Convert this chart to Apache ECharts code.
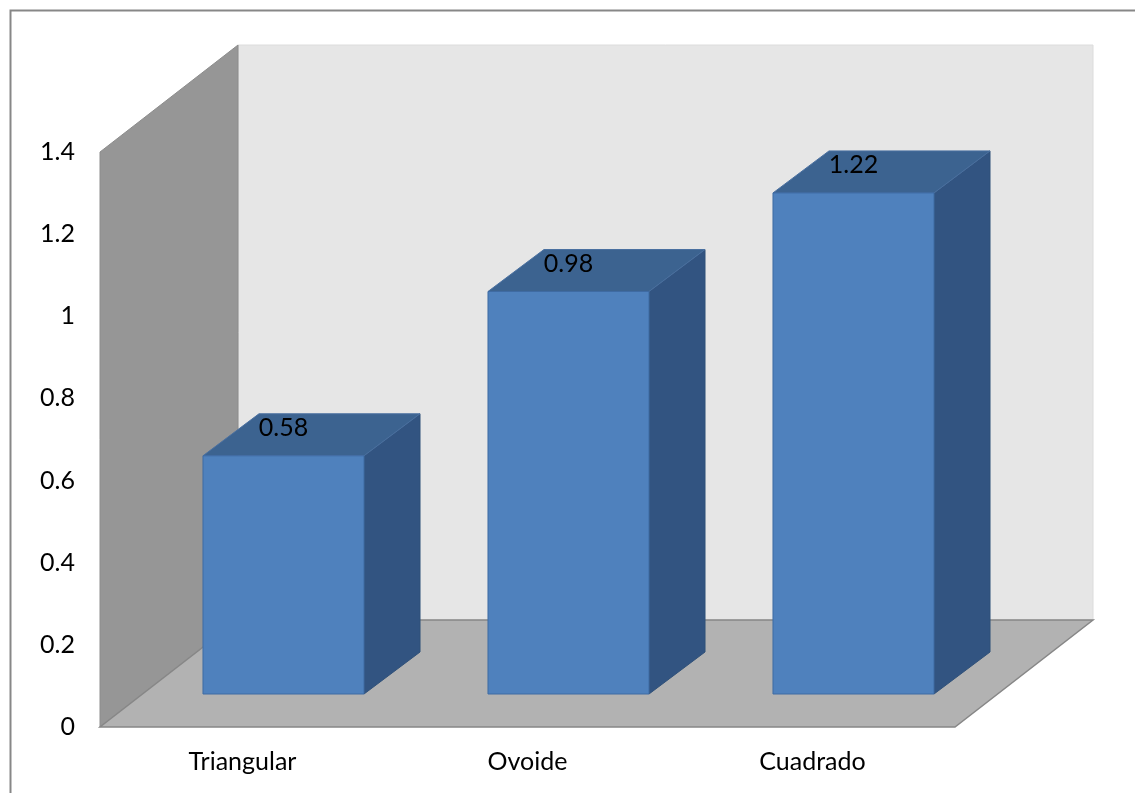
<!DOCTYPE html>
<html>
<head>
<meta charset="utf-8">
<script src="https://cdn.jsdelivr.net/npm/echarts@6/dist/echarts.min.js"></script>
<style>
  html, body { margin: 0; padding: 0; background: #fff; }
  #chart { width: 1135px; height: 793px; }
</style>
</head>
<body>
<div id="chart"></div>
<script>
// datos del gráfico
const categories = ['Triangular', 'Ovoide', 'Cuadrado'];
const values = [0.58, 0.98, 1.22];
const yTicks = [0, 0.2, 0.4, 0.6, 0.8, 1, 1.2, 1.4];

// geometría de la caja 3D (píxeles)
const WALL_DX = 138, WALL_DY = -107;   // profundidad de paredes
const BAR_DX = 41, BAR_DY = -33;       // desplazamiento de la barra respecto al plano frontal
const BAR_DEPTH_X = 56, BAR_DEPTH_Y = -42;
const BAR_RATIO = 0.565;

const FONT = 'Lato, "Open Sans", sans-serif';
const FONT_SIZE = 25;

const chart = echarts.init(document.getElementById('chart'));

// paredes y suelo, a partir del sistema de coordenadas
function renderWalls(params, api) {
  const cs = params.coordSys;
  const x0 = cs.x, x1 = cs.x + cs.width;
  const y0 = cs.y, y1 = cs.y + cs.height;
  return {
    type: 'group',
    children: [
      { // pared del fondo
        type: 'rect',
        shape: { x: x0 + WALL_DX, y: y0 + WALL_DY, width: cs.width, height: cs.height },
        style: { fill: '#e6e6e6', stroke: '#dcdcdc', lineWidth: 1 }
      },
      { // pared izquierda
        type: 'polygon',
        shape: { points: [[x0, y0], [x0 + WALL_DX, y0 + WALL_DY], [x0 + WALL_DX, y1 + WALL_DY], [x0, y1]] },
        style: { fill: '#969696', stroke: '#8c8c8c', lineWidth: 1 }
      },
      { // suelo
        type: 'polygon',
        shape: { points: [[x0, y1], [x1, y1], [x1 + WALL_DX, y1 + WALL_DY], [x0 + WALL_DX, y1 + WALL_DY]] },
        style: { fill: '#b2b2b2', stroke: '#878787', lineWidth: 1.5 }
      }
    ]
  };
}

function renderBar(params, api) {
  const top = api.coord([api.value(0), api.value(1)]);
  const base = api.coord([api.value(0), 0]);
  const bw = api.size([1, 0])[0] * BAR_RATIO;
  const cx = top[0] + BAR_DX;
  const l = cx - bw / 2, r = cx + bw / 2;
  const t = top[1] + BAR_DY, b = base[1] + BAR_DY;
  return {
    type: 'group',
    children: [
      { // lado derecho
        type: 'polygon',
        shape: { points: [[r, t], [r + BAR_DEPTH_X, t + BAR_DEPTH_Y], [r + BAR_DEPTH_X, b + BAR_DEPTH_Y], [r, b]] },
        style: { fill: '#325481', stroke: '#2f5078', lineWidth: 1 }
      },
      { // cara superior
        type: 'polygon',
        shape: { points: [[l, t], [l + BAR_DEPTH_X, t + BAR_DEPTH_Y], [r + BAR_DEPTH_X, t + BAR_DEPTH_Y], [r, t]] },
        style: { fill: '#3c6390', stroke: '#4a70a0', lineWidth: 1 }
      },
      { // cara frontal
        type: 'rect',
        shape: { x: l, y: t, width: bw, height: b - t },
        style: { fill: '#4f81bd', stroke: '#3f6ba3', lineWidth: 1 }
      },
      { // etiqueta
        type: 'text',
        style: {
          text: String(api.value(1)),
          x: cx, y: t - 28,
          align: 'center', verticalAlign: 'middle',
          font: FONT_SIZE + 'px ' + FONT,
          fill: '#000'
        }
      }
    ]
  };
}

const option = {
  animation: false,
  graphic: [{
    type: 'rect',
    left: 8, top: 8,
    shape: { width: 1200, height: 900 },
    style: { fill: 'none', stroke: '#878787', lineWidth: 2 },
    z: -10
  }],
  grid: { left: 100, right: 180, top: 152, bottom: 66 },
  xAxis: {
    type: 'category',
    data: categories,
    axisLine: { show: false },
    axisTick: { show: false },
    axisLabel: { color: '#000', fontSize: FONT_SIZE, fontFamily: FONT, margin: 22 }
  },
  yAxis: {
    type: 'value',
    min: 0, max: 1.4, interval: 0.2,
    splitLine: { show: false },
    axisLine: { show: false },
    axisTick: { show: false },
    axisLabel: {
      color: '#000', fontSize: FONT_SIZE, fontFamily: FONT, margin: 25,
      formatter: v => {
        const t = yTicks.find(k => Math.abs(k - v) < 1e-6);
        return t === undefined ? '' : String(t);
      }
    }
  },
  series: [
    {
      type: 'custom',
      z: 1,
      renderItem: renderWalls,
      data: [[0, 0]],
      silent: true
    },
    {
      type: 'custom',
      z: 2,
      renderItem: renderBar,
      encode: { x: 0, y: 1 },
      data: values.map((v, i) => [i, v])
    }
  ]
};

chart.setOption(option);
</script>
</body>
</html>
